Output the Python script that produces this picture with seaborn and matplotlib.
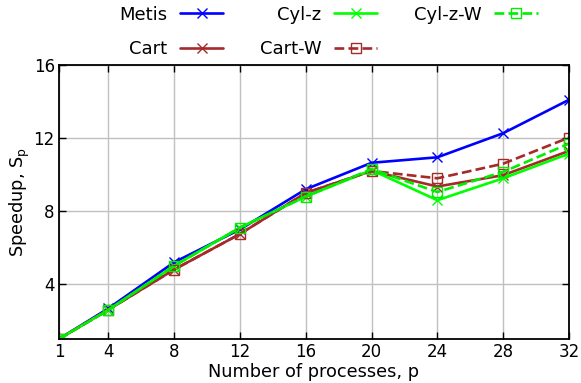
import matplotlib
matplotlib.use("Agg")
import matplotlib.pyplot as plt
import seaborn as sns
import pandas as pd

# Number of processes
procs = [1, 4, 8, 12, 16, 20, 24, 28, 32]

# Measured speedup per partitioning scheme
metis   = [1.0, 2.67, 5.2, 7.0, 9.2, 10.65, 10.95, 12.27, 14.1]
cart    = [1.0, 2.60, 4.8, 6.75, 9.0, 10.2, 9.35, 9.97, 11.3]
cyl_z   = [1.0, 2.60, 5.0, 7.1, 8.8, 10.25, 8.6, 9.8, 11.15]
cart_w  = [1.0, 2.60, 4.8, 6.75, 9.0, 10.2, 9.8, 10.6, 12.03]
cyl_z_w = [1.0, 2.58, 5.0, 7.1, 8.8, 10.3, 9.05, 10.15, 11.7]

yticks = [4, 8, 12, 16]

sns.set_theme(style="ticks", rc={
    "text.color": "black", "axes.labelcolor": "black",
    "xtick.color": "black", "ytick.color": "black",
})
plt.rcParams["font.family"] = ["DejaVu Sans"]

fig = plt.figure(figsize=(5.81, 3.83), dpi=100)
ax = fig.add_axes([0.1015, 0.115, 0.8778, 0.715])

series = [
    ("Metis",   metis,   "#0000ff", "x", "-"),
    ("Cart",    cart,    "#a52a2a", "x", "-"),
    ("Cyl-z",   cyl_z,   "#00ff00", "x", "-"),
    ("Cart-W",  cart_w,  "#a52a2a", "s", "--"),
    ("Cyl-z-W", cyl_z_w, "#00ee00", "s", "--"),
]

for name, vals, color, marker, ls in series:
    df = pd.DataFrame({"p": procs, "s": vals})
    sns.lineplot(
        data=df, x="p", y="s", ax=ax, label=name, color=color,
        linestyle=ls, linewidth=1.9,
        marker=marker, markersize=7.5 if marker == "x" else 7,
        markeredgewidth=1.0,
        markerfacecolor="none" if marker == "s" else color,
        markeredgecolor=color,
        dashes=(2.5, 4) if ls == "--" else "",
    )

ax.set_xlim(procs[0], procs[-1])
ax.set_ylim(1, 16)
ax.set_xticks(procs)
ax.set_yticks(yticks)
ax.grid(True, color="#c0c0c0", linewidth=1.0)
ax.set_axisbelow(True)
for sp in ax.spines.values():
    sp.set_visible(True)
    sp.set_color("black")
    sp.set_linewidth(1.3)
ax.tick_params(direction="in", length=5, width=1, color="black",
               top=True, right=True, labelsize=12, pad=3)
ax.set_xlabel("Number of processes, p", fontsize=12.8, labelpad=1)
ax.set_ylabel(r"Speedup, S$_\mathrm{p}$", fontsize=12.8, labelpad=1)

ax.legend(
    loc="upper center", bbox_to_anchor=(0.565, 0.99),
    bbox_transform=fig.transFigure, ncol=3, markerfirst=False,
    frameon=False, fontsize=13, handlelength=2.4, handletextpad=0.72,
    columnspacing=2.0, labelspacing=0.92, borderaxespad=0.0,
    borderpad=0.1,
)

fig.savefig("out.png", dpi=100)
